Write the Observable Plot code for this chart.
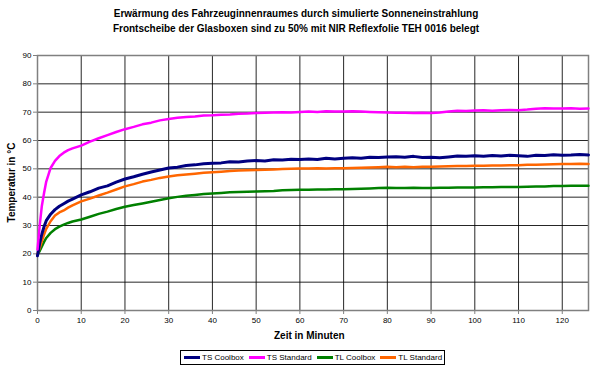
<!DOCTYPE html>
<html><head><meta charset="utf-8">
<script src="https://cdn.jsdelivr.net/npm/d3@7"></script>
<script src="https://cdn.jsdelivr.net/npm/@observablehq/plot@0.6"></script>
<style>
body{margin:0;background:#fff;font-family:"Liberation Sans",Arial,sans-serif;}
#wrap{position:relative;width:596px;height:372px;overflow:hidden;}
.title{position:absolute;left:-2px;width:596px;text-align:center;font-weight:bold;font-size:10px;color:#000;}
.xl{position:absolute;font-weight:bold;font-size:10px;}
.yl{position:absolute;font-weight:bold;font-size:10px;transform:rotate(-90deg);transform-origin:center;white-space:nowrap;}
#legend{position:absolute;left:180px;top:350px;height:15px;width:265px;border:1px solid #000;box-sizing:border-box;font-size:8px;display:flex;align-items:center;padding-left:3px;white-space:nowrap;}
#legend .sw{display:inline-block;width:16px;height:3px;margin-right:2px;}
#legend .it{display:flex;align-items:center;margin-right:5px;}
</style></head><body>
<div id="wrap">
<div class="title" style="top:8px">Erwärmung des Fahrzeuginnenraumes durch simulierte Sonneneinstrahlung</div>
<div class="title" style="top:23px">Frontscheibe der Glasboxen sind zu 50% mit NIR Reflexfolie TEH 0016 belegt</div>
<div id="chart"></div>
<div class="xl" style="left:274px;top:330px">Zeit in Minuten</div>
<div class="yl" style="left:-32px;top:177px;width:86px;text-align:center">Temperatur in °C</div>
<div id="legend"></div>
</div>
<script>
const times = [0,0.5,1,1.5,2,3,4,5,6,7,8,10,12,14,16,18,20,22,24,26,28,30,32,34,36,38,40,42,44,46,48,50,52,54,56,58,60,62,64,66,68,70,72,74,76,78,80,82,84,86,88,90,92,94,96,98,100,102,104,106,108,110,112,114,116,118,120,122,124,126];
const tsCoolbox = [19.3,23.8,27.0,29.6,31.7,34.0,35.6,36.8,37.7,38.6,39.3,40.8,41.9,43.2,44.0,45.3,46.4,47.2,48.1,48.9,49.6,50.3,50.6,51.2,51.4,51.8,52.0,52.1,52.5,52.4,52.8,52.9,52.8,53.2,53.1,53.4,53.3,53.5,53.3,53.7,53.5,53.7,53.9,53.7,54.1,54.0,54.2,54.3,54.1,54.4,54.0,54.1,53.9,54.2,54.5,54.4,54.6,54.4,54.7,54.5,54.8,54.6,54.4,54.8,54.7,55.0,54.8,54.9,55.1,54.9];
const tsStandard = [21.5,30.0,37.0,41.5,45.5,50.3,52.8,54.5,55.7,56.6,57.2,58.2,59.6,60.8,61.9,63.0,64.0,64.8,65.7,66.3,67.1,67.6,68.0,68.3,68.5,68.8,68.9,69.1,69.2,69.4,69.5,69.7,69.8,69.9,70.0,69.9,70.1,70.2,70.1,70.3,70.2,70.2,70.3,70.2,70.1,70.0,69.9,69.8,69.8,69.7,69.8,69.7,69.9,70.2,70.5,70.4,70.6,70.7,70.5,70.7,70.8,70.7,70.9,71.2,71.4,71.3,71.3,71.4,71.2,71.3];
const tlCoolbox = [19.7,21.0,22.6,24.2,25.6,27.4,28.7,29.6,30.3,30.9,31.4,32.1,33.1,34.1,34.9,35.8,36.6,37.2,37.8,38.4,39.0,39.6,40.1,40.5,40.8,41.1,41.3,41.5,41.7,41.8,41.9,42.0,42.1,42.2,42.4,42.5,42.6,42.6,42.7,42.7,42.8,42.8,42.9,43.0,43.1,43.2,43.3,43.2,43.2,43.3,43.2,43.2,43.3,43.3,43.4,43.4,43.4,43.5,43.5,43.6,43.6,43.6,43.7,43.8,43.8,43.9,43.9,44.0,44.0,44.0];
const tlStandard = [20.0,22.0,24.5,26.8,28.8,31.5,33.5,34.6,35.3,36.3,37.1,38.5,39.5,40.6,41.6,42.7,43.8,44.6,45.5,46.1,46.8,47.3,47.7,48.0,48.3,48.6,48.8,49.0,49.2,49.4,49.5,49.6,49.7,49.8,49.9,50.0,50.1,50.1,50.2,50.1,50.2,50.2,50.3,50.4,50.5,50.6,50.7,50.6,50.7,50.6,50.7,50.7,50.8,50.9,51.0,51.0,51.1,51.1,51.2,51.2,51.3,51.3,51.4,51.4,51.5,51.6,51.7,51.7,51.8,51.7];
const seriesNames = ["TS Coolbox","TS Standard","TL Coolbox","TL Standard"];
const seriesColors = ["#000080","#ff00ff","#008000","#ff6600"];
const xTicks = [0,10,20,30,40,50,60,70,80,90,100,110,120];
const yTicks = [0,10,20,30,40,50,60,70,80,90];

const allSeries = [tsCoolbox, tsStandard, tlCoolbox, tlStandard];
const data = [];
allSeries.forEach((vals, i) => vals.forEach((v, j) => data.push({t: times[j], v, s: seriesNames[i]})));

const chart = Plot.plot({
  width: 596, height: 372,
  marginLeft: 37, marginRight: 8, marginTop: 55, marginBottom: 62,
  style: {fontFamily: "Liberation Sans, Arial, sans-serif", fontSize: "8px", background: "white", overflow: "visible"},
  x: {domain: [0, 126]},
  y: {domain: [0, 90]},
  color: {domain: seriesNames, range: seriesColors},
  marks: [
    Plot.gridY(yTicks, {stroke: "#000", strokeOpacity: 0.85, strokeWidth: 1}),
    Plot.gridX(xTicks, {stroke: "#000", strokeOpacity: 0.85, strokeWidth: 1}),
    Plot.frame({stroke: "#808080", strokeWidth: 1.5}),
    Plot.axisY(yTicks, {tickSize: 4, tickPadding: 2, label: null, stroke: "#808080", fill: "#000"}),
    Plot.axisX(xTicks, {tickSize: 4, tickPadding: 3, label: null, stroke: "#808080", fill: "#000"}),
    Plot.line(data.filter(d => d.s === "TL Coolbox"), {x: "t", y: "v", stroke: "s", strokeWidth: 2.5}),
    Plot.line(data.filter(d => d.s === "TL Standard"), {x: "t", y: "v", stroke: "s", strokeWidth: 2.5}),
    Plot.line(data.filter(d => d.s === "TS Coolbox"), {x: "t", y: "v", stroke: "s", strokeWidth: 3}),
    Plot.line(data.filter(d => d.s === "TS Standard"), {x: "t", y: "v", stroke: "s", strokeWidth: 2.5})
  ]
});
document.getElementById("chart").appendChild(chart);

const leg = document.getElementById("legend");
seriesNames.forEach((n, i) => {
  const it = document.createElement("span"); it.className = "it";
  const sw = document.createElement("span"); sw.className = "sw"; sw.style.background = seriesColors[i];
  it.appendChild(sw); it.appendChild(document.createTextNode(n));
  leg.appendChild(it);
});
</script>
</body></html>
